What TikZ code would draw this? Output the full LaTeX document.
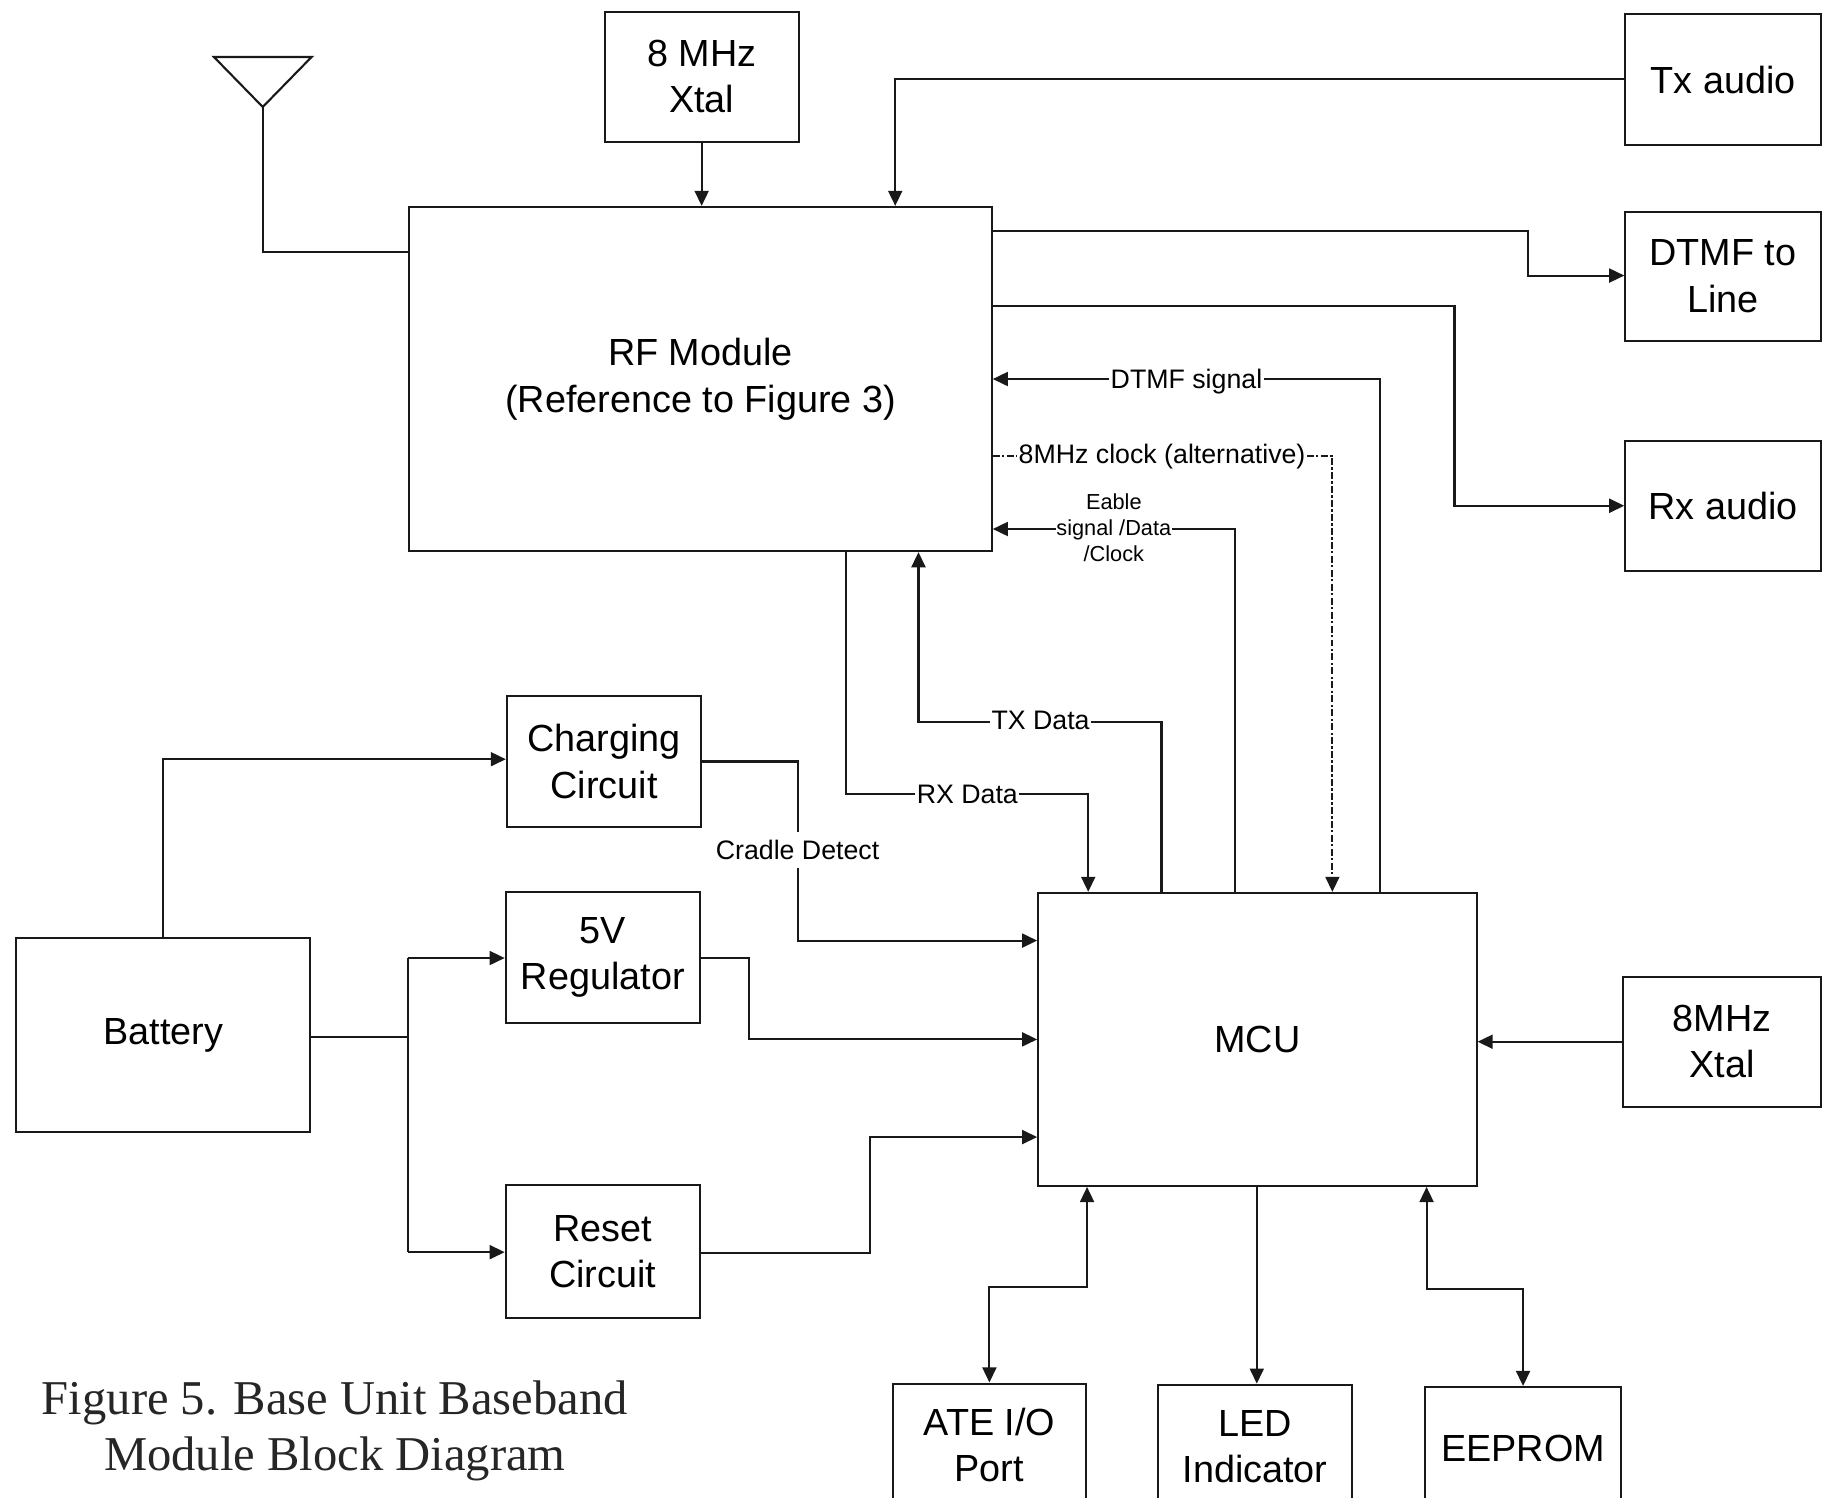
\documentclass[tikz,border=0pt]{standalone}
\usepackage{fontspec}
\setmainfont{Liberation Sans}
\newfontfamily\capfont{Liberation Serif}
\usetikzlibrary{arrows.meta}
\tikzset{
  boxnode/.style={draw=black!90,line width=1.8pt,inner sep=0pt,align=center,font=\fontsize{32.5}{40}\selectfont},
  smalllabel/.style={inner sep=1pt,align=center,font=\fontsize{23}{27}\selectfont},
  tinylabel/.style={inner sep=1pt,align=center,font=\fontsize{18.7}{22.5}\selectfont},
  wire/.style={draw=black!90,line width=1.8pt},
  arr/.style={wire,-{Triangle[length=13pt,width=12pt]}},
  biarr/.style={wire,{Triangle[length=13pt,width=12pt]}-{Triangle[length=13pt,width=12pt]}},
  dotwire/.style={wire,line width=1.7pt,dash pattern=on 6pt off 2pt on 2pt off 2pt},
  dotarr/.style={dotwire,-{Triangle[length=13pt,width=12pt,sep=0pt]}},
  captext/.style={inner sep=0pt,align=center,font=\capfont\fontsize{41.8}{48}\selectfont,text=black!85}
}
\newcommand{\bx}[6]{\node[boxnode,minimum width={(#4-#2)*1pt},minimum height={(#5-#3)*1pt}] (#1) at ({(#2+#4)/2},{(#3+#5)/2}) {#6};}
\begin{document}
\begin{tikzpicture}[x=1pt,y=-1pt]
\useasboundingbox (0,0) rectangle (1568,1288);
\clip (0,0) rectangle (1568,1288);
\fill[white] (0,0) rectangle (1568,1288);
% boxes
\bx{xtalA}{520}{10}{687}{122}{8 MHz\\Xtal}
\bx{rf}{352}{178}{853}{474}{RF Module\\(Reference to Figure 3)}
\bx{tx}{1398}{12}{1566}{125}{Tx audio}
\bx{dtmf}{1398}{182}{1566}{293}{DTMF to\\Line}
\bx{rx}{1398}{379}{1566}{491}{Rx audio}
\bx{chg}{436}{599}{603}{711}{Charging\\Circuit}
\bx{reg}{435}{767}{602}{880}{5V\\Regulator}
\bx{rst}{435}{1019}{602}{1134}{Reset\\Circuit}
\bx{bat}{14}{807}{267}{974}{Battery}
\bx{mcu}{893}{768}{1270}{1020}{MCU}
\bx{xtalB}{1396}{840}{1566}{952}{8MHz\\Xtal}
\bx{ate}{768}{1190}{934}{1296}{ATE I/O\\Port}
\bx{led}{996}{1191}{1163}{1298}{LED\\Indicator}
\bx{eep}{1226}{1193}{1394}{1299}{EEPROM}
% labels
\node[smalllabel] (lDtmf) at (1020.5,328) {DTMF signal};
\node[smalllabel] (lClk) at (999.5,393) {8MHz clock (alternative)};
\node[tinylabel] (lEn) at (958,454) {Eable\\signal /Data\\/Clock};
\node[smalllabel] (lTx) at (895,620) {TX Data};
\node[smalllabel] (lRx) at (832,683) {RX Data};
\node[smalllabel,inner ysep=7pt] (lCr) at (686,731) {Cradle Detect};
\node[captext] (cap) at (288,1231) {Figure 5. Base Unit Baseband\\Module Block Diagram};
% antenna
\coordinate (antTip) at (226,92);
\draw[wire,line join=miter] (184,49) -- (268,49) -- (antTip) -- cycle;
\draw[wire] (antTip) -- (antTip |- 0,217) -- (rf.west |- 0,217);
% top
\draw[arr] (xtalA.south) -- (xtalA.south |- rf.north);
\draw[arr] (tx.west |- 0,68) -- (770,68) -- (770,0 |- rf.north);
\draw[arr] (rf.east |- 0,199) -- (1314,199) -- (1314,237) -- (dtmf.west |- 0,237);
\draw[arr] (rf.east |- 0,263) -- (1251,263) -- (1251,435) -- (rx.west |- 0,435);
% signals MCU -> RF
\draw[wire] (1187,0 |- mcu.north) -- (1187,326) -- (lDtmf.east |- 0,326);
\draw[arr] (lDtmf.west |- 0,326) -- (rf.east |- 0,326);
\draw[dotwire] (rf.east |- 0,392) -- (lClk.west |- 0,392);
\draw[dotarr] (lClk.east |- 0,392) -- (1146,392) -- (1146,0 |- mcu.north);
\draw[wire] (1062,0 |- mcu.north) -- (1062,455) -- (1008,455);
\draw[arr] (908,455) -- (rf.east |- 0,455);
\draw[wire] (999,0 |- mcu.north) -- (999,621) -- (lTx.east |- 0,621);
\draw[arr] (lTx.west |- 0,621) -- (790,621) -- (790,0 |- rf.south);
\draw[wire] (728,0 |- rf.south) -- (728,683) -- (lRx.west);
\draw[arr] (lRx.east) -- (936,683) -- (936,0 |- mcu.north);
% power side
\draw[arr] (bat.north) -- (bat.north |- 0,653) -- (chg.west |- 0,653);
\draw[wire] (chg.east |- 0,655) -- (686,655) -- (lCr.north);
\draw[arr] (lCr.south) -- (686,809) -- (mcu.west |- 0,809);
\draw[arr] (reg.east |- 0,824) -- (644,824) -- (644,894) -- (mcu.west |- 0,894);
\draw[arr] (rst.east |- 0,1078) -- (748,1078) -- (748,978) -- (mcu.west |- 0,978);
\draw[wire] (bat.east |- 0,892) -- (351,892);
\draw[arr] (351,824) -- (reg.west |- 0,824);
\draw[arr] (351,1077) -- (rst.west |- 0,1077);
\draw[wire] (351,824) -- (351,1077);
% right and bottom
\draw[arr] (xtalB.west |- 0,896) -- (mcu.east |- 0,896);
\draw[biarr] (851,0 |- ate.north) -- (851,1107) -- (935,1107) -- (935,0 |- mcu.south);
\draw[arr] (1081,0 |- mcu.south) -- (1081,0 |- led.north);
\draw[biarr] (1310,0 |- eep.north) -- (1310,1109) -- (1227,1109) -- (1227,0 |- mcu.south);
\end{tikzpicture}
\end{document}
